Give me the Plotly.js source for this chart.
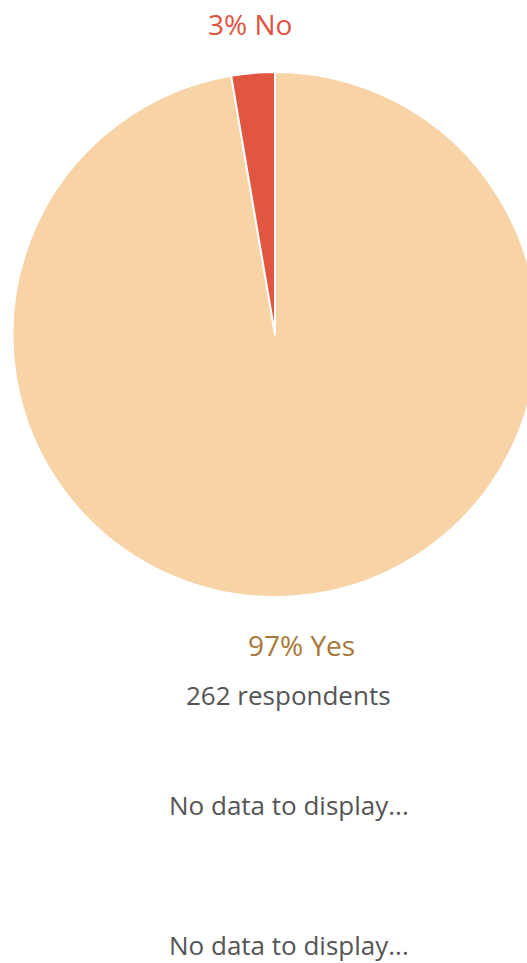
<!DOCTYPE html>
<html>
<head>
<meta charset="utf-8">
<script src="https://cdn.plot.ly/plotly-3.0.1.min.js"></script>
<style>
html,body{margin:0;padding:0;overflow:hidden;background:#fff;width:527px;height:963px;}
#chart{width:550px;height:963px;}
</style>
</head>
<body>
<div id="chart"></div>
<script>
const labels = ["Yes", "No"];
const counts = [255, 7];
const sliceColors = ["#F7D3A5", "#E05641"];
const labelColors = ["#A8773A", "#E0533F"];
const emptyMessage = "No data to display...";

const W = 550, H = 963;
const total = counts.reduce((a, b) => a + b, 0);
const pct = counts.map(c => Math.round(100 * c / total));

function px(x) { return x / W; }
function py(y) { return 1 - y / H; }

const data = [{
  type: "pie",
  labels: labels,
  values: counts,
  sort: false,
  direction: "clockwise",
  rotation: 0,
  marker: { colors: sliceColors, line: { color: "#ffffff", width: 2 } },
  textinfo: "none",
  hoverinfo: "label+percent",
  showlegend: false,
  domain: { x: [0, 1], y: [py(597), py(72)] }
}];

const font = "Open Sans, sans-serif";
const annotations = [
  { x: px(249.5), y: py(24), text: pct[1] + "% " + labels[1], font: { family: font, size: 28, color: labelColors[1] } },
  { x: px(301.5), y: py(645), text: pct[0] + "% " + labels[0], font: { family: font, size: 28, color: labelColors[0] } },
  { x: px(288.5), y: py(695), text: total + " respondents", font: { family: font, size: 26, color: "#555555" } },
  { x: px(288.5), y: py(805), text: emptyMessage, font: { family: font, size: 26, color: "#555555" } },
  { x: px(288.5), y: py(945), text: emptyMessage, font: { family: font, size: 26, color: "#555555" } }
].map(a => Object.assign({ xref: "paper", yref: "paper", showarrow: false, xanchor: "center", yanchor: "middle" }, a));

const layout = {
  width: W, height: H,
  margin: { l: 0, r: 0, t: 0, b: 0, pad: 0 },
  paper_bgcolor: "#ffffff",
  plot_bgcolor: "#ffffff",
  showlegend: false,
  annotations: annotations
};

Plotly.newPlot("chart", data, layout, { displayModeBar: false, staticPlot: true });
</script>
</body>
</html>
